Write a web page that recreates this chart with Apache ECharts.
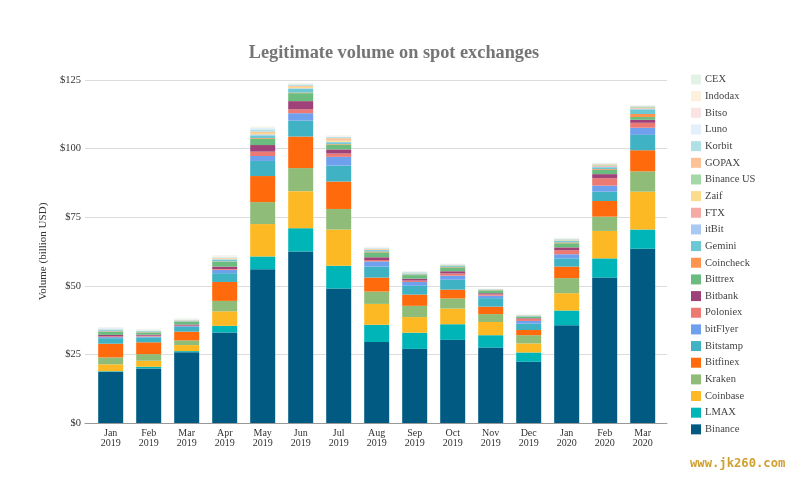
<!DOCTYPE html>
<html><head><meta charset="utf-8">
<style>html,body{margin:0;padding:0;background:#fff}#c{width:800px;height:485px}</style>
<script src="https://cdn.jsdelivr.net/npm/echarts@6/dist/echarts.min.js"></script></head>
<body><div id="c"></div>
<script>
const categories = ["Jan\n2019","Feb\n2019","Mar\n2019","Apr\n2019","May\n2019","Jun\n2019","Jul\n2019","Aug\n2019","Sep\n2019","Oct\n2019","Nov\n2019","Dec\n2019","Jan\n2020","Feb\n2020","Mar\n2020"];
const Binance   = [18.7,19.9,25.8,33,56,62.5,49,29.5,27,30.3,27.5,22.3,35.6,53,63.5];
const LMAX      = [.2,.6,.4,2.4,4.7,8.5,8.3,6.3,5.9,5.7,4.5,3.4,5.4,7,7];
const Coinbase  = [2.5,2.2,2.2,5.3,11.8,13.5,13.2,7.6,5.7,5.7,4.8,3.3,6.3,10,13.8];
const Kraken    = [2.5,2.4,1.7,3.8,8,8.4,7.5,4.5,4.1,3.7,2.9,3,5.5,5.2,7.4];
const Bitfinex  = [5,4.3,3.2,6.9,9.5,11.5,10,5.1,4.1,3.2,2.7,1.9,4.2,5.7,7.7];
const Bitstamp  = [2,1.8,1.7,3.2,5.5,5.8,5.8,4,3.2,3.6,3.1,2.3,3,3.4,5.6];
const bitFlyer  = [.4,.3,.3,1.2,1.8,2.7,3.2,1.9,1.4,1.5,.9,1,1.5,2.2,2.6];
const Poloniex  = [.3,.3,.2,.3,1.6,1.4,1.2,.5,.5,.8,.5,.8,1.5,2.7,1.8];
const Bitbank   = [.5,.4,.4,.9,2.4,3,1.5,1,.7,.8,.4,.2,1,1.5,1.1];
const Bittrex   = [1.1,.8,1,1.8,2.2,2.9,1.8,1.8,1.3,1.4,1,.5,1.5,1.5,1];
const Coincheck = [.2,.1,.1,.1,.3,.2,.2,.3,.2,.2,.1,.1,.3,.3,1.1];
const Gemini    = [.4,.3,.3,.6,1,1.4,.6,.5,.3,.4,.2,.2,.5,.7,1.7];
const itBit     = [.1,.1,.1,.2,.4,.2,.2,.1,.1,.1,.05,.05,.1,.2,.2];
const FTX       = [0,0,0,0,0,0,0,0,0,0,.02,.05,.1,.3,.2];
const Zaif      = [.1,.1,.1,.3,.5,.5,.4,.1,.1,.1,.03,.05,.1,.1,.1];
const BinanceUS = [0,0,0,0,0,0,0,0,.1,.1,.05,.1,.2,.3,.3];
const GOPAX     = [.05,.05,.05,.2,.5,.4,.9,.3,.1,.1,.05,.05,.1,.2,.2];
const Korbit    = [.2,.1,.1,.2,.8,.5,.4,.2,.2,.1,.05,.1,.2,.2,.2];
const Luno      = [.5,.1,.1,.2,.5,.1,.2,.2,.1,.1,.05,.05,.1,.1,.1];
const Bitso     = [.1,.05,.05,.1,.1,.1,.1,.1,.05,.05,.03,.03,.05,.1,.1];
const Indodax   = [.05,.1,.1,.2,.2,.2,.2,.1,.1,.1,.05,.07,.1,.1,.1];
const CEX       = [.1,.2,.2,.2,.2,.1,.1,.1,.14,.05,.02,.05,.15,.1,.1];

const seriesNames = ["Binance","LMAX","Coinbase","Kraken","Bitfinex","Bitstamp","bitFlyer","Poloniex","Bitbank","Bittrex","Coincheck","Gemini","itBit","FTX","Zaif","Binance US","GOPAX","Korbit","Luno","Bitso","Indodax","CEX"];
const seriesValues = [Binance,LMAX,Coinbase,Kraken,Bitfinex,Bitstamp,bitFlyer,Poloniex,Bitbank,Bittrex,Coincheck,Gemini,itBit,FTX,Zaif,BinanceUS,GOPAX,Korbit,Luno,Bitso,Indodax,CEX];
const colors = ["#005a82","#00b5b8","#fdb924","#8fbd79","#ff6a0d","#3fb2c4","#6fa0ee","#ec7a72","#a0427a","#6bbd7f","#ff9350","#6cc8d3","#a9c8f2","#f5aaa5","#fbdc8c","#a5d8a9","#fcc195","#aee0e5","#e3effb","#fbe3e3","#fdf0dc","#e2f2e6"];

const serif = '"Liberation Serif","DejaVu Serif",serif';
const chart = echarts.init(document.getElementById('c'), null, {renderer:'canvas'});
chart.setOption({
  animation:false,
  color:colors,
  title:{text:"Legitimate volume on spot exchanges",left:389,top:39,textAlign:'center',
    textStyle:{fontFamily:serif,fontWeight:'bold',fontSize:18.3,color:'#757575'}},
  legend:{orient:'vertical',left:686,top:69,itemWidth:10,itemHeight:10,itemGap:5.66,icon:'rect',
    data:seriesNames.slice().reverse(),selectedMode:false,
    textStyle:{fontFamily:serif,fontSize:10.5,color:'#444',lineHeight:10,padding:[0,0,0,-1]}},
  grid:[
    {left:85,top:80,width:582,height:343},
    {left:91.7,top:80,width:570,height:343}
  ],
  xAxis:[
    {gridIndex:0,type:'value',min:0,max:1,axisLabel:{show:false},axisTick:{show:false},splitLine:{show:false},
      axisLine:{show:true,lineStyle:{color:'#999',width:1}}},
    {gridIndex:1,type:'category',data:categories,axisLine:{show:false},axisTick:{show:false},
      axisLabel:{interval:0,margin:5,fontFamily:serif,fontSize:10,lineHeight:10.5,color:'#333'}}
  ],
  yAxis:[
    {gridIndex:0,type:'value',min:0,max:125,interval:25,
      name:"Volume (billion USD)",nameLocation:'middle',nameGap:36,nameRotate:90,
      nameTextStyle:{fontFamily:serif,fontSize:11,color:'#333'},
      axisLine:{show:false},axisTick:{show:false},
      axisLabel:{margin:4,fontFamily:serif,fontSize:10.5,color:'#333',formatter:v=>'$'+v},
      splitLine:{show:true,lineStyle:{color:'#dcdcdc',width:1}}},
    {gridIndex:1,type:'value',min:0,max:125,interval:25,show:false,splitLine:{show:false}}
  ],
  graphic:[{type:'text',left:690,top:458,z:100,
    style:{text:"www.jk260.com",fontFamily:'"DejaVu Sans Mono","Liberation Mono",monospace',fontWeight:'bold',fontSize:12.2,fill:'#d0a030'}}],
  series:seriesNames.map((n,i)=>({name:n,type:'bar',stack:'v',xAxisIndex:1,yAxisIndex:1,barWidth:25,z:5,data:seriesValues[i]}))
});
</script></body></html>
